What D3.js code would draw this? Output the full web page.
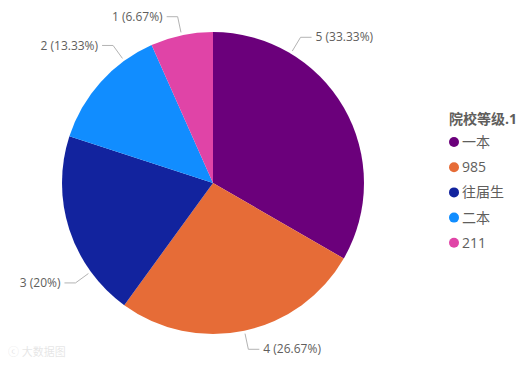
<!DOCTYPE html>
<html>
<head>
<meta charset="utf-8">
<script src="https://cdn.jsdelivr.net/npm/d3@7"></script>
<style>
  body { margin: 0; background: #fff; }
  svg { display: block; font-family: "Segoe UI", "Open Sans", "Noto Sans CJK SC", sans-serif; }
</style>
</head>
<body>
<div id="chart"></div>
<script>
// data
var categories = ['一本', '985', '往届生', '二本', '211'];
var values = [5, 4, 3, 2, 1];
var colors = ['#6B007B', '#E66C37', '#12239E', '#118DFF', '#E044A7'];
var legendTitle = '院校等级.1';

// label anchor angles (deg, clockwise from top) - labels are nudged like the original
var labelAngle = [31, 168, 234, 324, 348];

var width = 525, height = 365,
    cx = 213, cy = 183, radius = 151;

var svg = d3.select('#chart').append('svg')
    .attr('width', width)
    .attr('height', height);

var total = d3.sum(values);
var pie = d3.pie().sort(null).value(function(d) { return d; });
var arc = d3.arc().innerRadius(0).outerRadius(radius);
var arcs = pie(values);

var g = svg.append('g').attr('transform', 'translate(' + cx + ',' + cy + ')');

g.selectAll('path.slice')
    .data(arcs)
  .enter().append('path')
    .attr('class', 'slice')
    .attr('d', arc)
    .attr('fill', function(d, i) { return colors[i]; });

function pct(v) {
  var p = Math.round(v / total * 10000) / 100;
  return p + '%';
}

function pt(a, r) {
  var rad = a * Math.PI / 180;
  return [Math.sin(rad) * r, -Math.cos(rad) * r];
}

var labels = g.selectAll('g.lbl')
    .data(arcs)
  .enter().append('g')
    .attr('class', 'lbl');

labels.each(function(d, i) {
  var a = labelAngle[i];
  var p0 = pt(a, radius + 3),
      p1 = pt(a, radius + 19);
  var right = Math.sin(a * Math.PI / 180) > 0;
  var p2 = [p1[0] + (right ? 11 : -11), p1[1]];
  var sel = d3.select(this);
  sel.append('polyline')
      .attr('points', [p0, p1, p2].map(function(p) { return p.join(','); }).join(' '))
      .attr('fill', 'none')
      .attr('stroke', '#b3b3b3')
      .attr('stroke-width', 1);
  sel.append('text')
      .attr('x', p2[0] + (right ? 4 : -4))
      .attr('y', p2[1])
      .attr('dy', '0.35em')
      .attr('text-anchor', right ? 'start' : 'end')
      .attr('fill', '#605e5c')
      .style('font-size', '12px')
      .text(d.value + ' (' + pct(d.value) + ')');
});

// legend
var legend = svg.append('g').attr('transform', 'translate(449,119)');
legend.append('text')
    .attr('dy', '0.35em')
    .attr('fill', '#605e5c')
    .style('font-size', '14px')
    .style('font-weight', 'bold')
    .text(legendTitle);

var item = legend.selectAll('g.item')
    .data(categories)
  .enter().append('g')
    .attr('class', 'item')
    .attr('transform', function(d, i) { return 'translate(0,' + (23 + i * 25.2) + ')'; });

item.append('circle')
    .attr('cx', 5)
    .attr('r', 5)
    .attr('fill', function(d, i) { return colors[i]; });

item.append('text')
    .attr('x', 13)
    .attr('dy', '0.35em')
    .attr('fill', '#605e5c')
    .style('font-size', '14px')
    .text(function(d) { return d; });

// faint watermark
var wm = svg.append('g').attr('transform', 'translate(8,352)').attr('opacity', 0.12);
wm.append('text')
    .attr('dy', '0.35em')
    .attr('fill', '#333')
    .style('font-size', '11px')
    .text('ⓒ 大数据图');
</script>
</body>
</html>
